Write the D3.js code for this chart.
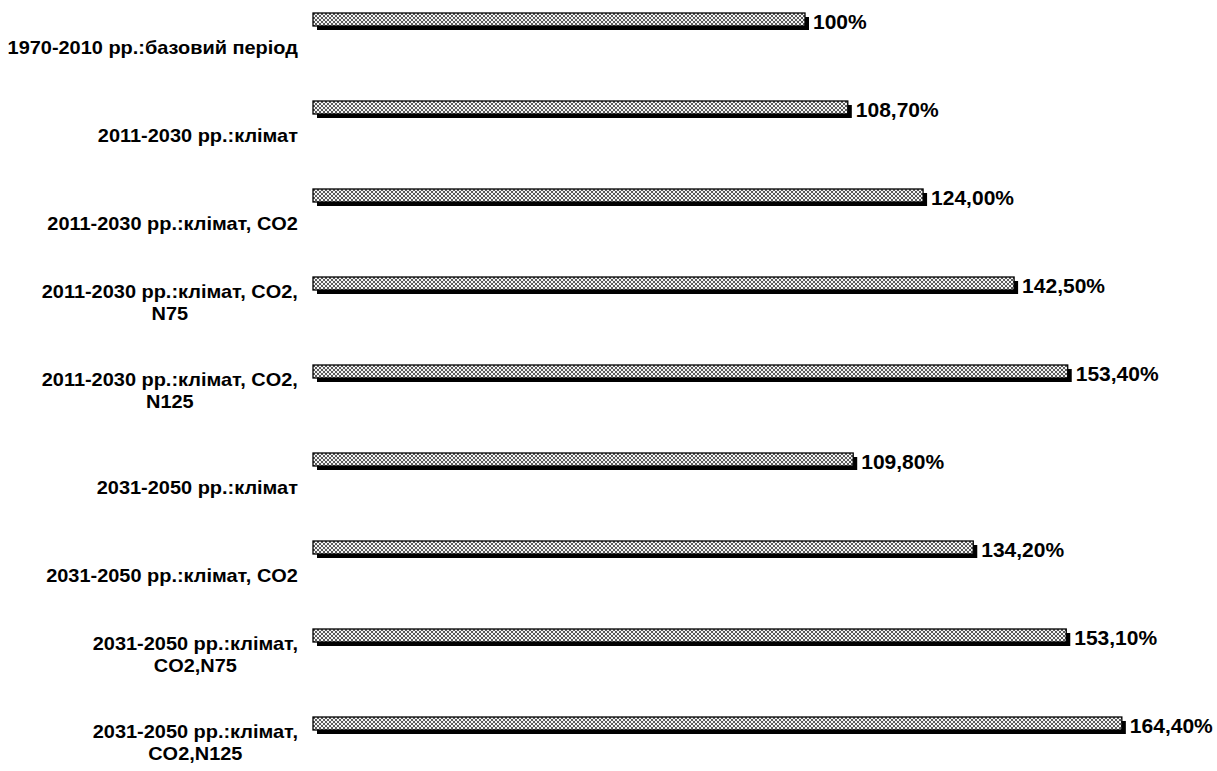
<!DOCTYPE html>
<html>
<head>
<meta charset="utf-8">
<script src="https://cdn.jsdelivr.net/npm/d3@7"></script>
<style>
  html, body { margin: 0; padding: 0; background: #fff; }
  svg { display: block; }
</style>
</head>
<body>
<svg id="chart" width="1217" height="771"></svg>
<script>
// ---- data ----
const categories = [
  ["1970-2010 рр.:базовий період"],
  ["2011-2030 рр.:клімат"],
  ["2011-2030 рр.:клімат, CO2"],
  ["2011-2030 рр.:клімат, CO2,", "N75"],
  ["2011-2030 рр.:клімат, CO2,", "N125"],
  ["2031-2050 рр.:клімат"],
  ["2031-2050 рр.:клімат, CO2"],
  ["2031-2050 рр.:клімат,", "CO2,N75"],
  ["2031-2050 рр.:клімат,", "CO2,N125"]
];
const values = [100, 108.7, 124.0, 142.5, 153.4, 109.8, 134.2, 153.1, 164.4];
const valueLabels = ["100%", "108,70%", "124,00%", "142,50%", "153,40%", "109,80%", "134,20%", "153,10%", "164,40%"];

// ---- layout ----
const svg = d3.select("#chart");
const FONT = "Arial, 'Liberation Sans', sans-serif";
const ids = categories.map((c, i) => i);

const x = d3.scaleLinear().domain([0, 100]).range([313, 805]);
const y = d3.scaleBand().domain(ids).range([13, 13 + 9 * 88]).paddingInner(0).paddingOuter(0);
const barH = 13;
const shadow = 4;

// pattern
const defs = svg.append("defs");
const pat = defs.append("pattern")
  .attr("id", "hatch")
  .attr("patternUnits", "userSpaceOnUse")
  .attr("width", 4).attr("height", 4);
pat.append("rect").attr("width", 4).attr("height", 4).attr("fill", "#f4f4f4");
pat.append("path").attr("d", "M0,0 L4,4 M4,0 L0,4")
  .attr("stroke", "#4a4a4a").attr("stroke-width", 0.9);

const g = svg.append("g");

// shadows
g.selectAll("rect.shadow").data(ids).join("rect")
  .attr("class", "shadow")
  .attr("x", i => x(0) + shadow)
  .attr("y", i => y(i) + shadow)
  .attr("width", i => x(values[i]) - x(0))
  .attr("height", barH)
  .attr("fill", "#000");

// bars
g.selectAll("rect.bar").data(ids).join("rect")
  .attr("class", "bar")
  .attr("x", i => x(0))
  .attr("y", i => y(i))
  .attr("width", i => x(values[i]) - x(0))
  .attr("height", barH)
  .attr("fill", "url(#hatch)")
  .attr("stroke", "#000")
  .attr("stroke-width", 1.3);

// value labels
g.selectAll("text.val").data(ids).join("text")
  .attr("class", "val")
  .attr("x", i => x(values[i]) + shadow + 4)
  .attr("y", i => y(i) + 15.5)
  .attr("font-family", FONT)
  .attr("font-weight", "bold")
  .attr("font-size", 21)
  .attr("fill", "#000")
  .text(i => valueLabels[i]);

// category labels
const labelRight = 298;
const sx = 1.14;
ids.forEach(i => {
  const lines = categories[i];
  const grp = g.append("g");
  const texts = lines.map((ln, k) => grp.append("text")
    .attr("font-family", FONT)
    .attr("font-weight", "bold")
    .attr("font-size", 17.5)
    .attr("text-anchor", "middle")
    .attr("x", 0)
    .attr("y", lines.length === 1 ? 0 : (k === 0 ? -22 : 0))
    .attr("fill", "#000")
    .text(ln));
  const w = d3.max(texts, t => t.node().getComputedTextLength());
  const cx = labelRight - w * sx / 2;
  const base = y(i) + (lines.length === 1 ? 40.5 : 42.5);
  grp.attr("transform", `translate(${cx},${base}) scale(${sx},1)`);
});
</script>
</body>
</html>
